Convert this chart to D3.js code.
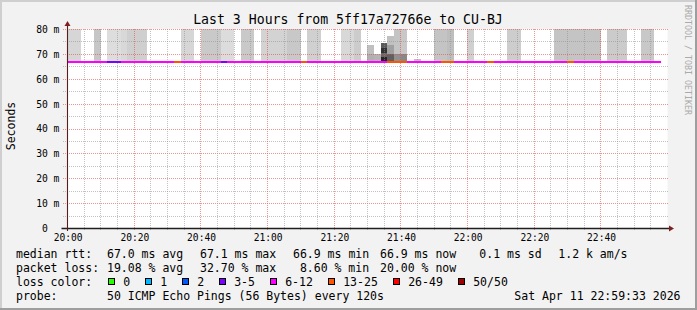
<!DOCTYPE html>
<html><head><meta charset="utf-8">
<script src="https://cdn.jsdelivr.net/npm/d3@7"></script>
<style>html,body{margin:0;padding:0;background:#f2f2f2;overflow:hidden}svg{display:block}</style>
</head><body><svg id="c" width="697" height="310"></svg>
<script>
// ---------------- data ----------------
const title = "Last 3 Hours from 5ff17a72766e to CU-BJ";
const yAxisTitle = "Seconds";
const watermark = "RRDTOOL / TOBI OETIKER";
const yTickValues = [0, 10, 20, 30, 40, 50, 60, 70, 80];
const yTickNumbers = ["0", "10", "20", "30", "40", "50", "60", "70", "80"];
const yTickUnits = ["", "m", "m", "m", "m", "m", "m", "m", "m"];
const xTickMinutes = [0, 20, 40, 60, 80, 100, 120, 140, 160];
const xTickLabels = ["20:00", "20:20", "20:40", "21:00", "21:20", "21:40", "22:00", "22:20", "22:40"];
const stepMinutes = 2;           // 50 pings every 120 s
// median RTT per 2-minute step (ms), starting 20:00
const medianRtt = [
  67.0,67.0,67.0,67.0,67.0,67.0,67.0,67.0,67.0,67.0,
  67.0,67.0,67.0,67.0,67.0,67.0,67.0,67.0,67.0,67.0,
  67.0,67.0,67.0,67.0,67.0,67.0,67.0,67.0,67.0,67.0,
  67.0,67.0,67.0,67.0,67.0,67.0,67.0,67.0,67.0,67.0,
  67.0,67.0,67.0,67.0,67.0,67.1,67.0,66.9,67.0,67.0,
  67.0,67.0,67.0,67.0,67.0,67.0,67.0,67.0,67.0,67.0,
  67.0,67.0,67.0,67.0,67.0,67.0,67.0,67.0,67.0,67.0,
  67.0,67.0,67.0,67.0,67.0,67.0,67.0,67.0,67.0,67.0,
  67.0,67.0,67.0,67.0,67.0,67.0,67.0,67.0,66.9
];
// packet loss per step (%)
const lossPct = [
  18,20,16,22,20,14,10,8.6,18,22,
  20,16,14,18,20,22,28,20,16,14,
  22,20,18,10,16,14,22,20,16,18,
  20,22,18,22,20,30,18,16,14,12,
  14,18,20,22,14,16,18,24,30,32.7,
  28,14,16,12,14,22,28,26,14,16,
  20,14,16,28,18,16,22,20,14,16,
  18,16,14,22,20,28,22,24,20,22,
  14,18,20,22,16,14,20,22,20
];
// smoke (ping spread) layers: step index, low ms, high ms, density gray
const smokeStep = [0,1,4,6,7,8,9,10,11,17,18,20,21,22,23,24,26,27,29,30,31,32,33,34,36,37,41,42,43,55,56,57,60,66,67,73,74,75,76,77,78,79,81,82,83,86,87,
  45,45,46,47,47,47,47,48,48,48,49,49,50,50,52];
const smokeLow = [67,67,67,67,67,67,67,67,67,67,67,67,67,67,67,67,67,67,67,67,67,67,67,67,67,67,67,67,67,67,67,67,67,67,67,67,67,67,67,67,67,67,67,67,67,67,67,
  67,70,67,67,69.1,70.4,72.4,67,70,73.8,67,70,67,70,67];
const smokeHigh = [85,85,85,85,85,85,85,85,85,85,85,85,85,85,85,85,85,85,85,85,85,85,85,85,85,85,85,85,85,85,85,85,85,85,85,85,85,85,85,85,85,85,85,85,85,85,85,
  70,73.7,70,69.1,70.4,72.4,74.4,70,73.8,77.4,70,85,70,85,68.2];
const smokeGray = [214,214,198,221,221,216,207,207,207,214,214,201,201,201,220,220,201,201,211,211,211,211,200,200,208,208,216,216,204,196,196,190,208,205,205,196,196,196,196,196,196,196,203,203,203,200,200,
  176,192,180,38,102,51,90,96,160,192,144,196,136,200,192];
// loss colour legend
const lossLabels = ["0", "1", "2", "3-5", "6-12", "13-25", "26-49", "50/50"];
const lossThresholds = [0, 1, 2, 3, 6, 13, 26, 50];   // lost pings of 50
const lossColors = ["#26ff00", "#00b8ff", "#0059ff", "#7e00ff", "#ff00ff", "#ff5500", "#ff0000", "#a10000"];
const pingsPerStep = 50;
const statRow1 = ["median rtt:", "67.0 ms avg", "67.1 ms max", "66.9 ms min", "66.9 ms now", "0.1 ms sd", "1.2 k am/s"];
const statRow2 = ["packet loss:", "19.08 % avg", "32.70 % max", "8.60 % min", "20.00 % now"];
const probeLabel = "probe:";
const probeText = "50 ICMP Echo Pings (56 Bytes) every 120s";
const lossColorLabel = "loss color:";
const dateText = "Sat Apr 11 22:59:33 2026";

// ---------------- drawing ----------------
const W = 697, H = 310;
const MONO = "'DejaVu Sans Mono', monospace";
const svg = d3.select("#c");
svg.append("rect").attr("width", W).attr("height", H).attr("fill", "#f2f2f2");
// 3D frame
svg.append("rect").attr("x", 0).attr("y", 0).attr("width", W).attr("height", 2).attr("fill", "#cfcfcf");
svg.append("rect").attr("x", 0).attr("y", 0).attr("width", 2).attr("height", H).attr("fill", "#cfcfcf");
svg.append("rect").attr("x", 0).attr("y", H - 2).attr("width", W).attr("height", 2).attr("fill", "#9e9e9e");
svg.append("rect").attr("x", W - 2).attr("y", 0).attr("width", 2).attr("height", H).attr("fill", "#9e9e9e");

const t0 = Date.UTC(2026, 3, 11, 20, 0, 0);
const minute = 60000;
const x = d3.scaleUtc().domain([new Date(t0), new Date(t0 + 180 * minute)]).range([67.4, 667.4]);
const y = d3.scaleLinear().domain([0, 80]).range([228.5, 29.5]);
const xm = m => x(new Date(t0 + m * minute));
const px = v => Math.floor(v) + 0.5;

// canvas
const cL = 67, cR = 667.5, cT = 29, cB = 228.5;
svg.append("rect").attr("x", cL).attr("y", cT).attr("width", cR - cL).attr("height", cB - cT).attr("fill", "#ffffff");
svg.append("clipPath").attr("id", "clip").append("rect")
  .attr("x", cL).attr("y", cT).attr("width", cR - cL).attr("height", cB - cT);

// smoke
const gSmoke = svg.append("g").attr("clip-path", "url(#clip)").attr("shape-rendering", "crispEdges");
smokeStep.forEach((s, i) => {
  const x0 = xm(s * stepMinutes), x1 = xm((s + 1) * stepMinutes);
  const y0 = y(smokeHigh[i]), y1 = y(smokeLow[i]);
  const g = smokeGray[i];
  gSmoke.append("rect").attr("x", x0).attr("width", x1 - x0)
    .attr("y", y0).attr("height", y1 - y0).attr("fill", d3.rgb(g, g, g));
});

// grid
const gGrid = svg.append("g").attr("shape-rendering", "crispEdges").attr("stroke-dasharray", "1,1").attr("stroke-width", 1);
const minorCol = "rgba(143,143,143,0.55)", majorCol = "rgba(222,79,79,0.6)";
for (let v = 5; v <= 80; v += 5) {
  const major = v % 10 === 0;
  gGrid.append("line").attr("x1", 63).attr("x2", 669).attr("y1", px(y(v))).attr("y2", px(y(v)))
    .attr("stroke", major ? majorCol : minorCol);
}
for (let m = 5; m < 180; m += 5) {
  const major = m % 20 === 0;
  gGrid.append("line").attr("y1", cT).attr("y2", major ? 231 : 230).attr("x1", px(xm(m))).attr("x2", px(xm(m)))
    .attr("stroke", major ? majorCol : minorCol);
}

// median line coloured by loss
const lossIndex = pct => {
  const lost = pct * pingsPerStep / 100;
  let k = 0;
  lossThresholds.forEach((t, i) => { if (lost >= t - 1e-9) k = i; });
  return k;
};
const gLine = svg.append("g").attr("shape-rendering", "crispEdges");
medianRtt.forEach((v, s) => {
  gLine.append("line").attr("x1", xm(s * stepMinutes)).attr("x2", xm((s + 1) * stepMinutes))
    .attr("y1", y(v)).attr("y2", y(v)).attr("stroke", lossColors[lossIndex(lossPct[s])]).attr("stroke-width", 2);
});

// axes
svg.append("line").attr("x1", 61.5).attr("x2", 670).attr("y1", 228.5).attr("y2", 228.5).attr("stroke", "#1f1f1f").attr("stroke-width", 1.3);
svg.append("path").attr("d", "M669,225.5L674,228.5L669,231.5Z").attr("fill", "#801f1f");
svg.append("line").attr("x1", 67.5).attr("x2", 67.5).attr("y1", 231).attr("y2", 25).attr("stroke", "#5a1c1c").attr("stroke-width", 1.1);
svg.append("path").attr("d", "M64.5,26L67.5,21L70.5,26Z").attr("fill", "#801f1f");

// y tick labels
yTickValues.forEach((v, i) => {
  const yy = y(v) + 3.4;
  svg.append("text").attr("x", 47.8).attr("y", yy).attr("text-anchor", "end")
    .attr("font-family", MONO).attr("font-size", 9.7).attr("fill", "#000").text(yTickNumbers[i]);
  if (yTickUnits[i]) svg.append("text").attr("x", 53.6).attr("y", yy)
    .attr("font-family", MONO).attr("font-size", 9.7).attr("fill", "#000").text(yTickUnits[i]);
});
// x tick labels
xTickMinutes.forEach((m, i) => {
  svg.append("text").attr("x", xm(m) + 0.8).attr("y", 240.6).attr("text-anchor", "middle")
    .attr("font-family", MONO).attr("font-size", 9.6).attr("fill", "#000").text(xTickLabels[i]);
});

// title
svg.append("text").attr("x", 348).attr("y", 24).attr("text-anchor", "middle")
  .attr("font-family", MONO).attr("font-size", 13.2).attr("fill", "#000").text(title);
// y-axis title
svg.append("text").attr("transform", "translate(14.6,126) rotate(-90)").attr("text-anchor", "middle")
  .attr("font-family", MONO).attr("font-size", 11.5).attr("fill", "#000").text(yAxisTitle);
// watermark
svg.append("text").attr("transform", "translate(684.8,5) rotate(90)").attr("text-anchor", "start")
  .attr("font-family", MONO).attr("font-size", 8.3).attr("fill", "#aaaaaa").text(watermark);

// legend
const legFont = 11.5;
const txt = (s, xx, yy, anchor) => svg.append("text").attr("x", xx).attr("y", yy)
  .attr("text-anchor", anchor || "start").attr("font-family", MONO).attr("font-size", legFont).attr("fill", "#000").text(s);
const row1X = [16, 107, 200, 293, 380, 479.3, 558.3];
statRow1.forEach((s, i) => txt(s, row1X[i], 258.4));
const row2X = [16, 107, 200, 299.9, 380];
statRow2.forEach((s, i) => txt(s, row2X[i], 272.4));
txt(lossColorLabel, 16, 286.3);
const boxX = [108.5, 145.5, 182.5, 219.5, 270.5, 328.5, 393.5, 458.5];
lossLabels.forEach((l, i) => {
  svg.append("rect").attr("x", boxX[i]).attr("y", 278.5).attr("width", 6).attr("height", 6)
    .attr("fill", lossColors[i]).attr("stroke", "#000").attr("stroke-width", 1).attr("shape-rendering", "crispEdges");
  txt(l, boxX[i] + 14.7, 286.3);
});
txt(probeLabel, 16, 300.2);
txt(probeText, 107, 300.2);
txt(dateText, 680.5, 300.2, "end");
</script></body></html>
